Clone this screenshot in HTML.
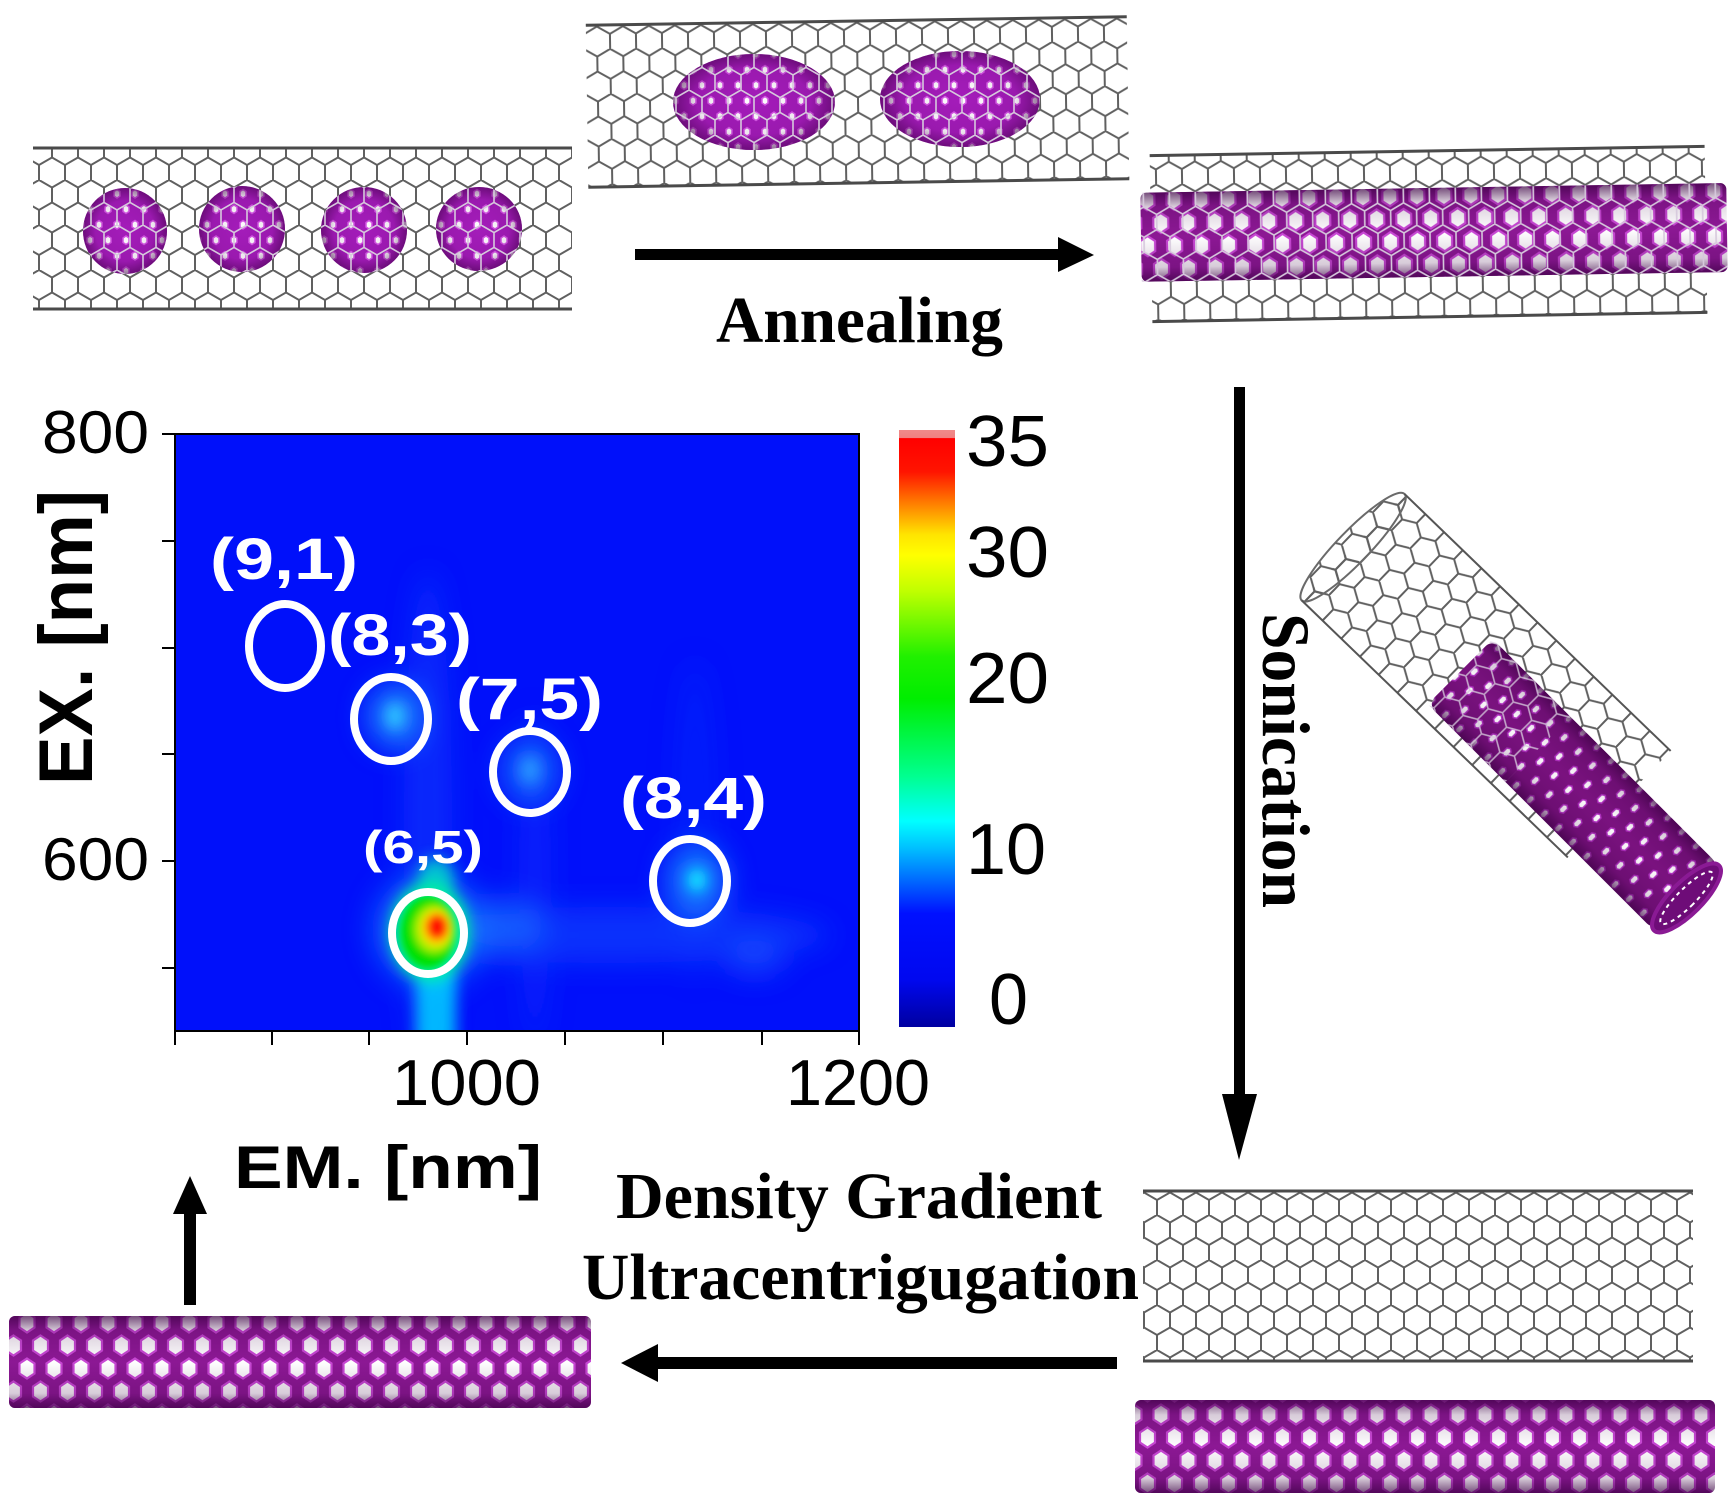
<!DOCTYPE html>
<html><head><meta charset="utf-8">
<style>
html,body{margin:0;padding:0;background:#fff;}
svg{display:block;}
.ar{font-family:"Liberation Sans",Arial,sans-serif;}
.tm{font-family:"Liberation Serif","Times New Roman",serif;font-weight:bold;}
</style></head><body>
<svg width="1732" height="1502" viewBox="0 0 1732 1502" xmlns="http://www.w3.org/2000/svg">
<defs>
  <pattern id="hexG" width="26" height="45" patternUnits="userSpaceOnUse">
    <path d="M0,7.5 L13,0 L26,7.5 M0,7.5 V22.5 M26,7.5 V22.5 M0,22.5 L13,30 L26,22.5 M13,30 V45" fill="none" stroke="#606060" stroke-width="2"/>
  </pattern>
  <pattern id="hexL" width="26" height="45" patternUnits="userSpaceOnUse">
    <path d="M0,7.5 L13,0 L26,7.5 M0,7.5 V22.5 M26,7.5 V22.5 M0,22.5 L13,30 L26,22.5 M13,30 V45" fill="none" stroke="#d6c8dc" stroke-width="1.6"/>
  </pattern>
  <pattern id="hexP" width="27" height="46" patternUnits="userSpaceOnUse">
    <rect width="27" height="46" fill="#8c1894"/>
    <g fill="#fff" stroke="#c848d4" stroke-width="2.2">
      <polygon points="13.5,1.5 21,6.5 21,16.5 13.5,21.5 6,16.5 6,6.5"/>
      <polygon points="0,24.5 7.5,29.5 7.5,39.5 0,44.5 -7.5,39.5 -7.5,29.5"/>
      <polygon points="27,24.5 34.5,29.5 34.5,39.5 27,44.5 19.5,39.5 19.5,29.5"/>
    </g>
  </pattern>
  <pattern id="hexPd" width="20" height="34" patternUnits="userSpaceOnUse">
    <rect width="20" height="34" fill="#7a127f"/>
    <g fill="#fff" stroke="#b030c0" stroke-width="1.5">
      <polygon points="10,3 13,5 13,11 10,13 7,11 7,5"/>
      <polygon points="0,20 3,22 3,28 0,30 -3,28 -3,22"/>
      <polygon points="20,20 23,22 23,28 20,30 17,28 17,22"/>
    </g>
  </pattern>
  <pattern id="hexS" width="18" height="31" patternUnits="userSpaceOnUse">
    <rect width="18" height="31" fill="#a41cba"/>
    <g fill="#fff" stroke="#d656e6" stroke-width="1.5">
      <polygon points="9,3.5 12,5.5 12,10 9,12 6,10 6,5.5"/>
      <polygon points="0,19 3,21 3,25.5 0,27.5 -3,25.5 -3,21"/>
      <polygon points="18,19 21,21 21,25.5 18,27.5 15,25.5 15,21"/>
    </g>
  </pattern>
  <radialGradient id="sphShade" cx="50%" cy="50%" r="50%">
    <stop offset="0" stop-color="#400048" stop-opacity="0"/>
    <stop offset="0.7" stop-color="#400048" stop-opacity="0.1"/>
    <stop offset="1" stop-color="#400048" stop-opacity="0.55"/>
  </radialGradient>
  <linearGradient id="tubeShade" x1="0" y1="0" x2="0" y2="1">
    <stop offset="0" stop-color="#3a0042" stop-opacity="0.7"/>
    <stop offset="0.16" stop-color="#3a0042" stop-opacity="0.2"/>
    <stop offset="0.5" stop-color="#3a0042" stop-opacity="0"/>
    <stop offset="0.84" stop-color="#3a0042" stop-opacity="0.2"/>
    <stop offset="1" stop-color="#3a0042" stop-opacity="0.7"/>
  </linearGradient>
  <linearGradient id="cbar" x1="0" y1="0" x2="0" y2="1">
    <stop offset="0" stop-color="#f08a8a"/>
    <stop offset="0.013" stop-color="#f08080"/>
    <stop offset="0.014" stop-color="#ff0000"/>
    <stop offset="0.07" stop-color="#ff1400"/>
    <stop offset="0.12" stop-color="#ff7800"/>
    <stop offset="0.175" stop-color="#ffe400"/>
    <stop offset="0.21" stop-color="#ffff00"/>
    <stop offset="0.27" stop-color="#c0ff00"/>
    <stop offset="0.38" stop-color="#20f000"/>
    <stop offset="0.45" stop-color="#00ee00"/>
    <stop offset="0.58" stop-color="#00ff90"/>
    <stop offset="0.655" stop-color="#00ffff"/>
    <stop offset="0.70" stop-color="#00c0ff"/>
    <stop offset="0.76" stop-color="#0060ff"/>
    <stop offset="0.81" stop-color="#0010ff"/>
    <stop offset="0.92" stop-color="#0008f0"/>
    <stop offset="1" stop-color="#0000a0"/>
  </linearGradient>
  <filter id="b14" x="-60%" y="-60%" width="220%" height="220%"><feGaussianBlur stdDeviation="14"/></filter>
  <filter id="b7" x="-60%" y="-60%" width="220%" height="220%"><feGaussianBlur stdDeviation="7"/></filter>
  <filter id="b4" x="-60%" y="-60%" width="220%" height="220%"><feGaussianBlur stdDeviation="4"/></filter>
  <clipPath id="plotClip"><rect x="175" y="434" width="684" height="597"/></clipPath>
  <clipPath id="sph1">
    <ellipse cx="125" cy="231" rx="42" ry="43"/>
    <ellipse cx="242" cy="229" rx="43" ry="43"/>
    <ellipse cx="364" cy="230" rx="43" ry="43"/>
    <ellipse cx="479" cy="229" rx="43" ry="42"/>
  </clipPath>
  <clipPath id="sph2">
    <ellipse cx="754" cy="102" rx="81" ry="48"/>
    <ellipse cx="960" cy="99" rx="80" ry="48"/>
  </clipPath>
</defs>

<rect width="1732" height="1502" fill="#fff"/>

<!-- Tube 1 with 4 spheres -->
<g>
  <rect x="33" y="147" width="539" height="163" fill="url(#hexG)"/>
  <g>
    <ellipse cx="125" cy="231" rx="42" ry="43" fill="url(#hexS)"/>
    <ellipse cx="242" cy="229" rx="43" ry="43" fill="url(#hexS)"/>
    <ellipse cx="364" cy="230" rx="43" ry="43" fill="url(#hexS)"/>
    <ellipse cx="479" cy="229" rx="43" ry="42" fill="url(#hexS)"/>
    <ellipse cx="125" cy="231" rx="42" ry="43" fill="url(#sphShade)"/>
    <ellipse cx="242" cy="229" rx="43" ry="43" fill="url(#sphShade)"/>
    <ellipse cx="364" cy="230" rx="43" ry="43" fill="url(#sphShade)"/>
    <ellipse cx="479" cy="229" rx="43" ry="42" fill="url(#sphShade)"/>
  </g>
  <rect x="33" y="147" width="539" height="163" fill="url(#hexL)" clip-path="url(#sph1)"/>
  <line x1="33" y1="148" x2="572" y2="148" stroke="#4a4a4a" stroke-width="3"/>
  <line x1="33" y1="309" x2="572" y2="309" stroke="#4a4a4a" stroke-width="3"/>
</g>

<!-- Tube 2 with 2 ellipsoids -->
<g transform="rotate(-0.9 857 100)">
  <rect x="587" y="20" width="541" height="164" fill="url(#hexG)"/>
  <line x1="587" y1="21" x2="1128" y2="21" stroke="#4a4a4a" stroke-width="3"/>
  <line x1="587" y1="183" x2="1128" y2="183" stroke="#4a4a4a" stroke-width="3"/>
</g>
<ellipse cx="754" cy="102" rx="81" ry="48" fill="url(#hexS)"/>
<ellipse cx="960" cy="99" rx="80" ry="48" fill="url(#hexS)"/>
<ellipse cx="754" cy="102" rx="81" ry="48" fill="url(#sphShade)"/>
<ellipse cx="960" cy="99" rx="80" ry="48" fill="url(#sphShade)"/>
<rect x="587" y="15" width="541" height="170" fill="url(#hexL)" clip-path="url(#sph2)"/>

<!-- Tube 3 with inner purple tube -->
<g transform="rotate(-0.95 1428 234)">
  <rect x="1151" y="150" width="555" height="168" fill="url(#hexG)"/>
  <line x1="1151" y1="151" x2="1706" y2="151" stroke="#4a4a4a" stroke-width="3"/>
  <line x1="1151" y1="317" x2="1706" y2="317" stroke="#4a4a4a" stroke-width="3"/>
  <rect x="1141" y="188" width="586" height="89" fill="url(#hexP)" rx="6"/>
  <rect x="1141" y="188" width="586" height="89" fill="url(#tubeShade)" rx="6"/>
  <rect x="1141" y="188" width="586" height="89" fill="url(#hexL)"/>
</g>

<!-- Annealing arrow + text -->
<rect x="635" y="249" width="426" height="11" fill="#000"/>
<polygon points="1058,237 1094,255 1058,272" fill="#000"/>
<text class="tm" x="716" y="342" font-size="66" textLength="287" lengthAdjust="spacingAndGlyphs">Annealing</text>

<!-- Sonication arrow + text -->
<rect x="1234" y="387" width="11" height="712" fill="#000"/>
<polygon points="1222,1094 1257,1094 1239,1160" fill="#000"/>
<text class="tm" transform="translate(1263,613) rotate(90)" x="0" y="0" font-size="68" textLength="295" lengthAdjust="spacingAndGlyphs">Sonication</text>

<!-- Diagonal tubes -->
<g transform="translate(1482,680) rotate(44)">
  <rect x="-185" y="-80" width="370" height="148" fill="url(#hexG)"/>
  <ellipse cx="-185" cy="-6" rx="16" ry="74" fill="url(#hexG)" stroke="#6a6a6a" stroke-width="2"/>
  <line x1="-185" y1="-80" x2="185" y2="-80" stroke="#555" stroke-width="2"/>
  <line x1="-185" y1="68" x2="185" y2="68" stroke="#555" stroke-width="2"/>
</g>
<g transform="translate(1567,777) rotate(45)">
  <rect x="-150" y="-45" width="320" height="92" fill="url(#hexPd)" rx="10"/>
  <rect x="-150" y="-45" width="320" height="92" fill="url(#tubeShade)" rx="10"/>
  <ellipse cx="170" cy="1" rx="16" ry="46" fill="#6e0c78" stroke="#8a1a94" stroke-width="4"/>
  <ellipse cx="170" cy="1" rx="9" ry="36" fill="none" stroke="#fff" stroke-width="2" stroke-dasharray="4 4"/>
  <rect x="-150" y="-45" width="110" height="92" fill="url(#hexL)" opacity="0.8"/>
</g>

<!-- Bottom right tubes -->
<rect x="1143" y="1190" width="550" height="172" fill="url(#hexG)"/>
<line x1="1143" y1="1191" x2="1693" y2="1191" stroke="#4a4a4a" stroke-width="3"/>
<line x1="1143" y1="1361" x2="1693" y2="1361" stroke="#4a4a4a" stroke-width="3"/>
<rect x="1135" y="1400" width="580" height="93" fill="url(#hexP)" rx="6"/>
<rect x="1135" y="1400" width="580" height="93" fill="url(#tubeShade)" rx="6"/>

<!-- Bottom left tube -->
<rect x="9" y="1316" width="582" height="92" fill="url(#hexP)" rx="6"/>
<rect x="9" y="1316" width="582" height="92" fill="url(#tubeShade)" rx="6"/>

<!-- Left arrow + text -->
<rect x="655" y="1357" width="462" height="12" fill="#000"/>
<polygon points="658,1344 621,1363 658,1382" fill="#000"/>
<text class="tm" x="616" y="1218" font-size="66" textLength="486" lengthAdjust="spacingAndGlyphs">Density Gradient</text>
<text class="tm" x="582" y="1299" font-size="66" textLength="557" lengthAdjust="spacingAndGlyphs">Ultracentrigugation</text>

<!-- Up arrow -->
<rect x="184" y="1210" width="12" height="95" fill="#000"/>
<polygon points="173,1214 190,1176 207,1214" fill="#000"/>

<!-- Heatmap -->
<g clip-path="url(#plotClip)">
  <rect x="175" y="434" width="684" height="597" fill="#0010fa"/>
  <g filter="url(#b14)">
    <ellipse cx="428" cy="830" rx="24" ry="260" fill="#1c5cff" opacity="0.35"/>
    <ellipse cx="610" cy="935" rx="220" ry="28" fill="#1a64ff" opacity="0.4"/>
    <ellipse cx="535" cy="880" rx="16" ry="170" fill="#1448ff" opacity="0.3"/>
    <ellipse cx="695" cy="820" rx="20" ry="160" fill="#1448ff" opacity="0.25"/>
    <ellipse cx="395" cy="716" rx="28" ry="32" fill="#1e8cff" opacity="0.85"/>
    <ellipse cx="530" cy="770" rx="28" ry="32" fill="#1c78ff" opacity="0.8"/>
    <ellipse cx="697" cy="880" rx="30" ry="34" fill="#1c8cff" opacity="0.85"/>
    <ellipse cx="755" cy="957" rx="30" ry="18" fill="#1a5cff" opacity="0.6"/>
    <ellipse cx="430" cy="930" rx="58" ry="58" fill="#1090ff" opacity="0.55"/>
    <ellipse cx="505" cy="925" rx="38" ry="28" fill="#1a80ff" opacity="0.5"/>
  </g>
  <g filter="url(#b7)">
    <ellipse cx="395" cy="716" rx="9" ry="13" fill="#30d0ff" opacity="0.9"/>
    <ellipse cx="530" cy="770" rx="9" ry="13" fill="#30a8ff" opacity="0.8"/>
    <ellipse cx="697" cy="880" rx="9" ry="11" fill="#10f0ff"/>
    <rect x="416" y="965" width="40" height="85" fill="#00d0ff" opacity="0.85"/>
    <ellipse cx="436" cy="880" rx="18" ry="22" fill="#00e0c8" opacity="0.8"/>
    <ellipse cx="430" cy="932" rx="40" ry="50" fill="#00f0a0"/>
  </g>
  <g filter="url(#b4)">
    <ellipse cx="428" cy="932" rx="27" ry="36" fill="#00e000"/>
    <ellipse cx="434" cy="929" rx="20" ry="24" fill="#a8f000"/>
    <ellipse cx="436" cy="928" rx="15" ry="18" fill="#ffd800"/>
    <ellipse cx="437" cy="927" rx="11" ry="13" fill="#ff3000"/>
    <ellipse cx="437" cy="927" rx="6" ry="7" fill="#ff0000"/>
  </g>
  <!-- white circles -->
  <g fill="none" stroke="#fff" stroke-width="8">
    <ellipse cx="285" cy="646" rx="36" ry="42"/>
    <ellipse cx="391" cy="719" rx="37" ry="42"/>
    <ellipse cx="530" cy="772" rx="37" ry="41"/>
    <ellipse cx="690" cy="881" rx="37" ry="42"/>
    <ellipse cx="428" cy="933" rx="36" ry="41"/>
  </g>
  <g class="ar" fill="#fff" font-weight="bold">
    <text x="210" y="579" font-size="58" textLength="148" lengthAdjust="spacingAndGlyphs">(9,1)</text>
    <text x="328" y="655" font-size="58" textLength="144" lengthAdjust="spacingAndGlyphs">(8,3)</text>
    <text x="456" y="719" font-size="58" textLength="147" lengthAdjust="spacingAndGlyphs">(7,5)</text>
    <text x="620" y="818" font-size="58" textLength="147" lengthAdjust="spacingAndGlyphs">(8,4)</text>
    <text x="363" y="863" font-size="46" textLength="120" lengthAdjust="spacingAndGlyphs">(6,5)</text>
  </g>
</g>
<rect x="175" y="434" width="684" height="597" fill="none" stroke="#000" stroke-width="2"/>

<!-- ticks -->
<g stroke="#000" stroke-width="2">
  <line x1="162" y1="434" x2="175" y2="434"/>
  <line x1="162" y1="541" x2="175" y2="541"/>
  <line x1="162" y1="648" x2="175" y2="648"/>
  <line x1="162" y1="754" x2="175" y2="754"/>
  <line x1="162" y1="861" x2="175" y2="861"/>
  <line x1="162" y1="968" x2="175" y2="968"/>
  <line x1="175" y1="1031" x2="175" y2="1045"/>
  <line x1="272" y1="1031" x2="272" y2="1045"/>
  <line x1="369" y1="1031" x2="369" y2="1045"/>
  <line x1="467" y1="1031" x2="467" y2="1045"/>
  <line x1="565" y1="1031" x2="565" y2="1045"/>
  <line x1="663" y1="1031" x2="663" y2="1045"/>
  <line x1="762" y1="1031" x2="762" y2="1045"/>
  <line x1="859" y1="1031" x2="859" y2="1045"/>
</g>

<!-- tick labels -->
<g class="ar" fill="#000">
  <text x="149" y="453" font-size="60" text-anchor="end" textLength="107" lengthAdjust="spacingAndGlyphs">800</text>
  <text x="149" y="880" font-size="60" text-anchor="end" textLength="107" lengthAdjust="spacingAndGlyphs">600</text>
  <text x="392" y="1105" font-size="65" textLength="149" lengthAdjust="spacingAndGlyphs">1000</text>
  <text x="786" y="1105" font-size="65" textLength="144" lengthAdjust="spacingAndGlyphs">1200</text>
  <text x="966" y="466" font-size="72" textLength="83" lengthAdjust="spacingAndGlyphs">35</text>
  <text x="966" y="577" font-size="72" textLength="83" lengthAdjust="spacingAndGlyphs">30</text>
  <text x="966" y="703" font-size="72" textLength="83" lengthAdjust="spacingAndGlyphs">20</text>
  <text x="966" y="874" font-size="72" textLength="80" lengthAdjust="spacingAndGlyphs">10</text>
  <text x="989" y="1024" font-size="72" textLength="39" lengthAdjust="spacingAndGlyphs">0</text>
</g>

<!-- axis titles -->
<text class="ar" font-weight="bold" transform="translate(92,785) rotate(-90)" x="0" y="0" font-size="76" textLength="295" lengthAdjust="spacingAndGlyphs">EX. [nm]</text>
<text class="ar" font-weight="bold" x="234" y="1188" font-size="60" textLength="308" lengthAdjust="spacingAndGlyphs">EM. [nm]</text>

<!-- colorbar -->
<rect x="899" y="430" width="56" height="597" fill="url(#cbar)"/>
</svg>
</body></html>
